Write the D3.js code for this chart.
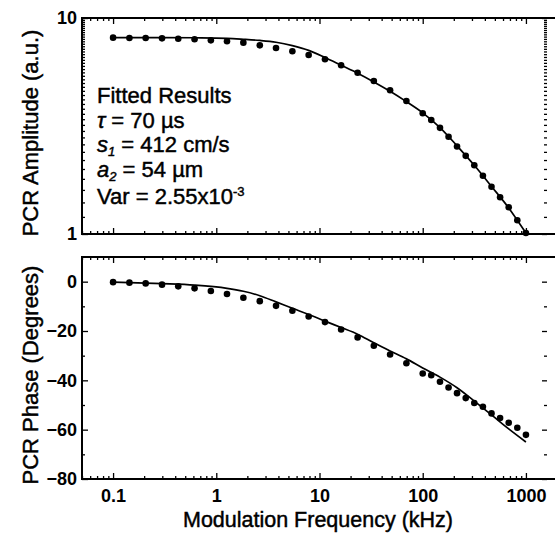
<!DOCTYPE html>
<html>
<head>
<meta charset="utf-8">
<script src="https://cdn.jsdelivr.net/npm/d3@7"></script>
<style>
  body { margin: 0; background: #fff; }
  svg { display: block; font-family: "Liberation Sans", Arial, Helvetica, sans-serif; }
  .tick line { stroke: #000; stroke-width: 1.3; }
  .label { stroke: #000; stroke-width: 0.45; fill: #000; }
</style>
</head>
<body>
<svg id="chart" width="555" height="533"></svg>
<script>
'use strict';

// modulation frequencies (kHz) of the measured points
const freq = [0.1, 0.144, 0.207, 0.298, 0.428, 0.616, 0.886, 1.27, 1.83, 2.64,
  3.79, 5.46, 7.85, 11.3, 16.2, 23.4, 33.6, 48.3, 69.5, 100,
  121, 147, 178, 215, 261, 316, 383, 464, 562, 681, 825, 1000];
// measured amplitude (a.u.)
const ampData = [8.11, 8.08, 8.08, 8.05, 8.02, 7.97, 7.88, 7.80, 7.69, 7.47,
  7.26, 7.01, 6.74, 6.44, 6.04, 5.58, 5.11, 4.63, 4.13, 3.62,
  3.37, 3.10, 2.82, 2.54, 2.30, 2.08, 1.86, 1.655, 1.48, 1.33, 1.157, 1.01];
// measured phase (degrees)
const phaseData = [-0.2, -0.4, -0.7, -1.2, -1.9, -2.7, -3.8, -5.0, -6.5, -7.9,
  -9.8, -11.8, -14.1, -16.4, -19.4, -22.6, -26.0, -29.5, -33.1, -37.2,
  -37.9, -40.6, -42.9, -45.2, -47.2, -49.2, -50.7, -53.4, -55.3, -57.2, -59.2, -62.1];

// fitted curves
const fitFreq = [0.1, 0.298, 0.616, 1.27, 1.83, 2.64, 3.79, 5.46, 7.85, 11.3, 16.2,
  23.4, 33.6, 48.3, 69.5, 100, 147, 215, 316, 464, 681, 1000];
const ampFit = [8.12, 8.12, 8.10, 8.05, 7.97, 7.87, 7.72, 7.45, 7.08, 6.56, 6.04,
  5.55, 5.06, 4.58, 4.10, 3.64, 3.11, 2.56, 2.08, 1.66, 1.32, 1.01];
const phaseFit = [-0.2, -0.8, -1.4, -2.7, -3.9, -5.7, -8.2, -10.8, -13.3, -16.0, -18.6,
  -21.3, -24.8, -28.1, -31.3, -35.0, -38.7, -43.0, -48.4, -54.0, -59.7, -65.0];

const xTicks = [0.1, 1, 10, 100, 1000];
const ampTicks = [1, 10];
const phaseTicks = [0, -20, -40, -60, -80];
const fitLines = ['Fitted Results', 'τ = 70 µs', 's1 = 412 cm/s', 'a2 = 54 µm', 'Var = 2.55x10-3'];

const svg = d3.select('#chart');
const left = 82, right = 557;
const top1 = 18, bot1 = 234, top2 = 257, bot2 = 479;

const x = d3.scaleLog().domain([0.05, 2000]).range([left, right]);
const yAmp = d3.scaleLog().domain([1, 10]).range([bot1, top1]);
const yPh = d3.scaleLinear().domain([-80, 10]).range([bot2, top2]);

// minor ticks on the log axes (2..9 in each decade)
function logMinors(scale) {
  const [a, b] = scale.domain();
  return scale.ticks(50).filter(v => v >= a && v <= b);
}
const xMinor = logMinors(x).filter(v => !xTicks.includes(v));
const ampMinor = logMinors(yAmp).filter(v => !ampTicks.includes(v));
const phMinor = d3.range(-70, 10, 20);

function drawAxes(y, yTicks, yMinor, top, bot, showX) {
  const g = svg.append('g');
  // x, bottom and top, ticks inward
  g.append('g').attr('transform', `translate(0,${bot})`)
    .call(d3.axisBottom(x).tickValues(xTicks).tickSize(-6).tickPadding(showX ? 10 : 0)
      .tickFormat(showX ? d3.format('~g') : ''))
    .call(a => a.select('.domain').remove());
  g.append('g').attr('transform', `translate(0,${bot})`)
    .call(d3.axisBottom(x).tickValues(xMinor).tickSize(-3).tickFormat(''))
    .call(a => a.select('.domain').remove());
  g.append('g').attr('transform', `translate(0,${top})`)
    .call(d3.axisTop(x).tickValues(xTicks).tickSize(-6).tickFormat(''))
    .call(a => a.select('.domain').remove());
  g.append('g').attr('transform', `translate(0,${top})`)
    .call(d3.axisTop(x).tickValues(xMinor).tickSize(-3).tickFormat(''))
    .call(a => a.select('.domain').remove());
  // y, left labelled, right ticks only
  g.append('g').attr('transform', `translate(${left},0)`)
    .call(d3.axisLeft(y).tickValues(yTicks).tickSize(-6).tickPadding(5).tickFormat(d3.format('~g')))
    .call(a => a.select('.domain').remove());
  g.append('g').attr('transform', `translate(${left},0)`)
    .call(d3.axisLeft(y).tickValues(yMinor).tickSize(-3).tickFormat(''))
    .call(a => a.select('.domain').remove());
  g.append('g').attr('transform', `translate(547,0)`)
    .call(d3.axisRight(y).tickValues(yTicks).tickSize(-5).tickFormat(''))
    .call(a => a.select('.domain').remove());
  g.append('g').attr('transform', `translate(547,0)`)
    .call(d3.axisRight(y).tickValues(yMinor).tickSize(-3).tickFormat(''))
    .call(a => a.select('.domain').remove());
  // frame
  g.append('rect').attr('x', left).attr('y', top)
    .attr('width', right - left).attr('height', bot - top)
    .attr('fill', 'none').attr('stroke', '#000').attr('stroke-width', 2);
}

drawAxes(yAmp, ampTicks, ampMinor, top1, bot1, false);
drawAxes(yPh, phaseTicks, phMinor, top2, bot2, true);

svg.selectAll('g.tick text')
  .attr('fill', '#000')
  .style('font-size', '18px').style('font-weight', 'bold');

// fitted lines
const ampLine = d3.line().x((d, i) => x(fitFreq[i])).y(d => yAmp(d)).curve(d3.curveMonotoneX);
const phLine = d3.line().x((d, i) => x(fitFreq[i])).y(d => yPh(d)).curve(d3.curveMonotoneX);

svg.append('path').attr('d', ampLine(ampFit))
  .attr('fill', 'none').attr('stroke', '#000').attr('stroke-width', 1.7);
svg.append('path').attr('d', phLine(phaseFit))
  .attr('fill', 'none').attr('stroke', '#000').attr('stroke-width', 1.7);

// measured points
svg.append('g').selectAll('circle')
  .data(ampData)
  .join('circle')
  .attr('cx', (d, i) => x(freq[i]))
  .attr('cy', d => yAmp(d))
  .attr('r', 3.3)
  .attr('fill', '#000');
svg.append('g').selectAll('circle')
  .data(phaseData)
  .join('circle')
  .attr('cx', (d, i) => x(freq[i]))
  .attr('cy', d => yPh(d))
  .attr('r', 3.3)
  .attr('fill', '#000');

// axis titles
svg.append('text').attr('class', 'label')
  .attr('transform', 'translate(38,133) rotate(-90)')
  .attr('text-anchor', 'middle').attr('font-size', 22)
  .text('PCR Amplitude (a.u.)');
svg.append('text').attr('class', 'label')
  .attr('transform', 'translate(38,375) rotate(-90)')
  .attr('text-anchor', 'middle').attr('font-size', 22)
  .text('PCR Phase (Degrees)');
svg.append('text').attr('class', 'label')
  .attr('x', 318).attr('y', 527)
  .attr('text-anchor', 'middle').attr('font-size', 21.5)
  .text('Modulation Frequency (kHz)');

// fitted results box
const info = svg.append('text').attr('class', 'label').attr('font-size', 22).attr('x', 97);
info.append('tspan').attr('x', 97).attr('y', 103).text(fitLines[0]);

let t = info.append('tspan').attr('x', 97).attr('y', 128);
t.append('tspan').attr('font-style', 'italic').text('τ');
t.append('tspan').text(' = 70 µs');

t = info.append('tspan').attr('x', 97).attr('y', 152);
t.append('tspan').attr('font-style', 'italic').text('s');
t.append('tspan').attr('font-style', 'italic').attr('font-size', 13).attr('dy', 4).text('1');
t.append('tspan').attr('dy', -4).text(' = 412 cm/s');

t = info.append('tspan').attr('x', 97).attr('y', 177);
t.append('tspan').attr('font-style', 'italic').text('a');
t.append('tspan').attr('font-style', 'italic').attr('font-size', 13).attr('dy', 4).text('2');
t.append('tspan').attr('dy', -4).text(' = 54 µm');

t = info.append('tspan').attr('x', 97).attr('y', 204);
t.append('tspan').text('Var = 2.55x10');
t.append('tspan').attr('font-size', 13).attr('dy', -8).text('-3');
</script>
</body>
</html>
